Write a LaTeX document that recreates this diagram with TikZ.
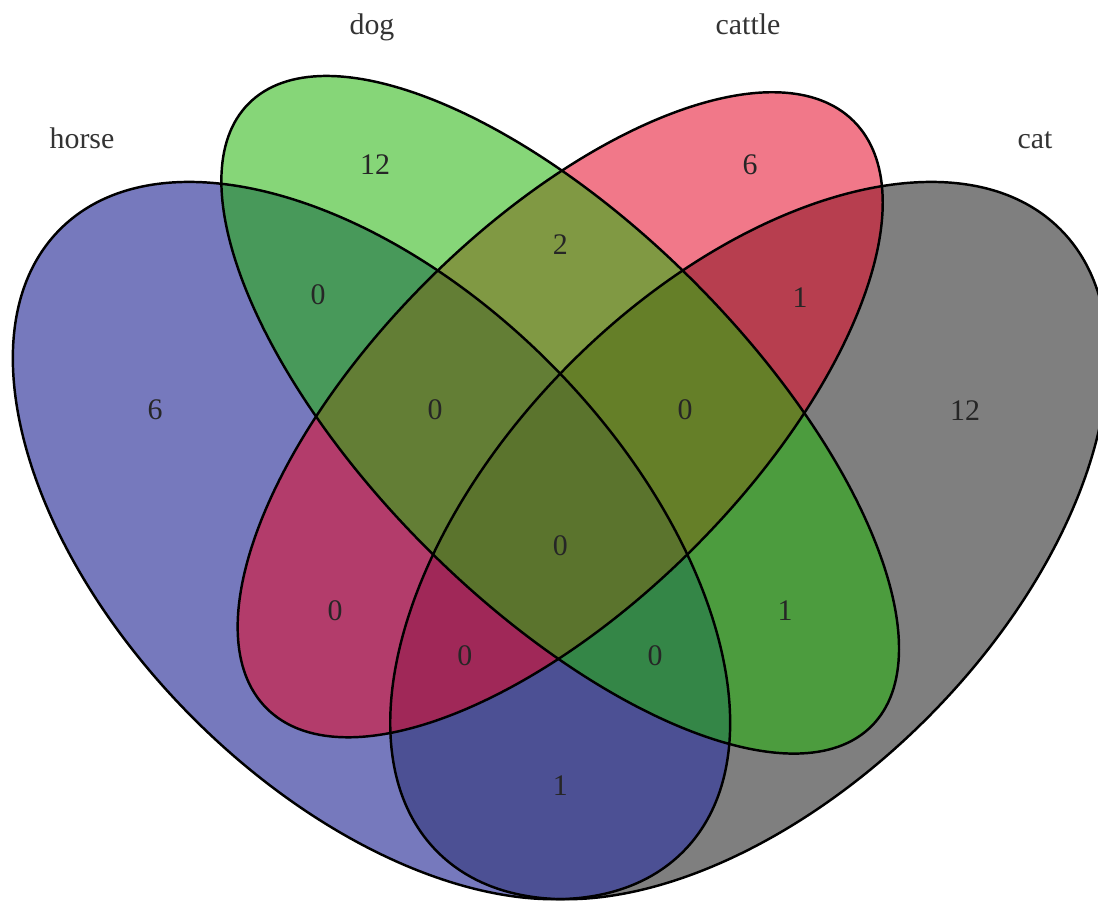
\documentclass[tikz,border=0pt]{standalone}
\usepackage{fontspec}
\setmainfont{Liberation Serif}
\usepackage{tikz}
\usepackage{xcolor}

\definecolor{horsefill}{RGB}{53,58,158}
\definecolor{dogfill}{RGB}{35,180,10}
\definecolor{cattlefill}{RGB}{230,10,40}
\definecolor{catfill}{RGB}{0,0,0}

\begin{document}
\begin{tikzpicture}[x=12.58cm,y=12.58cm]
  \tikzstyle{setname}=[font=\fontsize{8.5}{10}\selectfont,text=black!80,anchor=base]
  \tikzstyle{count}=[font=\fontsize{8.5}{10}\selectfont,text=black!85]
  \tikzstyle{outline}=[draw=black,line width=0.7pt]
  \useasboundingbox (0.0547,0.1832) rectangle (0.9275,0.8997);
  \clip (0.0547,0.1832) rectangle (0.9275,0.8997);
  \coordinate (horse) at (0.35,0.47);
  \coordinate (dog) at (0.50,0.57);
  \coordinate (cattle) at (0.50,0.57);
  \coordinate (cat) at (0.65,0.47);
  % fills, cat at the bottom and dog on top
  \fill[catfill,fill opacity=0.5,rotate around={45:(cat)}] (cat) ellipse [x radius=0.35,y radius=0.2];
  \fill[horsefill,fill opacity=0.68,rotate around={135:(horse)}] (horse) ellipse [x radius=0.35,y radius=0.2];
  \fill[cattlefill,fill opacity=0.55,rotate around={45:(cattle)}] (cattle) ellipse [x radius=0.33,y radius=0.15];
  \fill[dogfill,fill opacity=0.55,rotate around={135:(dog)}] (dog) ellipse [x radius=0.35,y radius=0.15];
  % outlines
  \draw[outline,rotate around={45:(cat)}] (cat) ellipse [x radius=0.35,y radius=0.2];
  \draw[outline,rotate around={135:(horse)}] (horse) ellipse [x radius=0.35,y radius=0.2];
  \draw[outline,rotate around={45:(cattle)}] (cattle) ellipse [x radius=0.33,y radius=0.15];
  \draw[outline,rotate around={135:(dog)}] (dog) ellipse [x radius=0.35,y radius=0.15];
  % set names
  \node(horse-name)[setname] at (0.1199,0.7820) {horse};
  \node(dog-name)[setname] at (0.3504,0.8720) {dog};
  \node(cattle-name)[setname] at (0.6493,0.8720) {cattle};
  \node(cat-name)[setname] at (0.8774,0.7820) {cat};
  % region counts
  \node(h)[count] at (0.1779,0.5737) {6};
  \node(d)[count] at (0.3528,0.7685) {12};
  \node(ca)[count] at (0.6509,0.7685) {6};
  \node(c)[count] at (0.8218,0.5737) {12};
  \node(hd)[count] at (0.3075,0.6651) {0};
  \node(dca)[count] at (0.5002,0.7049) {2};
  \node(cac)[count] at (0.6906,0.6635) {1};
  \node(hdca)[count] at (0.4005,0.5737) {0};
  \node(dcac)[count] at (0.5992,0.5737) {0};
  \node(hca)[count] at (0.3210,0.4146) {0};
  \node(all)[count] at (0.5002,0.4663) {0};
  \node(dc)[count] at (0.6787,0.4146) {1};
  \node(hcac)[count] at (0.4243,0.3788) {0};
  \node(hdc)[count] at (0.5754,0.3788) {0};
  \node(hc)[count] at (0.5002,0.2754) {1};
\end{tikzpicture}
\end{document}
